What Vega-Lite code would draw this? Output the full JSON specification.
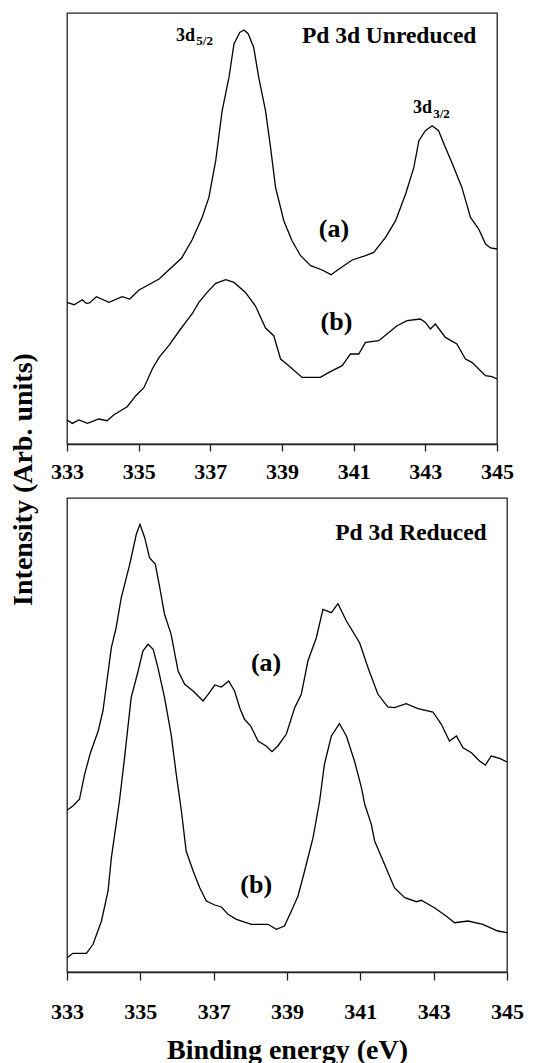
{
  "$schema": "https://vega.github.io/schema/vega-lite/v6.json",
  "padding": {"left": 8, "top": 12, "right": 5, "bottom": 0},
  "spacing": 54,
  "bounds": "flush",
  "config": {
    "font": "Liberation Serif",
    "view": {"stroke": "#222", "strokeWidth": 1.3},
    "axis": {"grid": false, "domainColor": "#222", "domainWidth": 1.3, "tickColor": "#222", "tickWidth": 1.3, "labelColor": "#000", "labelFont": "Liberation Serif", "labelFontSize": 22, "labelFontWeight": "bold", "titleFont": "Liberation Serif", "titleFontWeight": "bold", "titleFontSize": 28, "titleColor": "#000"}
  },
  "datasets": {
    "curves": [
      {"p":"top","s":"a","E":333.00,"I":141.6},{"p":"top","s":"a","E":333.20,"I":139.3},{"p":"top","s":"a","E":333.43,"I":144.3},{"p":"top","s":"a","E":333.54,"I":140.6},{"p":"top","s":"a","E":333.63,"I":141},{"p":"top","s":"a","E":333.82,"I":147.3},{"p":"top","s":"a","E":334.17,"I":141.6},{"p":"top","s":"a","E":334.54,"I":147.3},{"p":"top","s":"a","E":334.75,"I":145},{"p":"top","s":"a","E":335.01,"I":154},{"p":"top","s":"a","E":335.57,"I":165},{"p":"top","s":"a","E":336.20,"I":186},{"p":"top","s":"a","E":336.49,"I":204},{"p":"top","s":"a","E":336.77,"I":226.6},{"p":"top","s":"a","E":336.96,"I":246.6},{"p":"top","s":"a","E":337.15,"I":283.3},{"p":"top","s":"a","E":337.33,"I":333.3},{"p":"top","s":"a","E":337.52,"I":366.6},{"p":"top","s":"a","E":337.66,"I":400},{"p":"top","s":"a","E":337.82,"I":411.6},{"p":"top","s":"a","E":337.94,"I":414},{"p":"top","s":"a","E":338.06,"I":410},{"p":"top","s":"a","E":338.21,"I":396.6},{"p":"top","s":"a","E":338.35,"I":366.6},{"p":"top","s":"a","E":338.54,"I":333.3},{"p":"top","s":"a","E":338.68,"I":296.6},{"p":"top","s":"a","E":338.82,"I":256.6},{"p":"top","s":"a","E":339.05,"I":223.3},{"p":"top","s":"a","E":339.28,"I":203.3},{"p":"top","s":"a","E":339.52,"I":188.3},{"p":"top","s":"a","E":339.80,"I":178.3},{"p":"top","s":"a","E":340.12,"I":174},{"p":"top","s":"a","E":340.37,"I":169.3},{"p":"top","s":"a","E":340.59,"I":175},{"p":"top","s":"a","E":340.96,"I":184},{"p":"top","s":"a","E":341.33,"I":188.3},{"p":"top","s":"a","E":341.56,"I":191.6},{"p":"top","s":"a","E":341.89,"I":206.6},{"p":"top","s":"a","E":342.17,"I":223.3},{"p":"top","s":"a","E":342.45,"I":250},{"p":"top","s":"a","E":342.68,"I":276.6},{"p":"top","s":"a","E":342.82,"I":303.3},{"p":"top","s":"a","E":343.00,"I":313.3},{"p":"top","s":"a","E":343.19,"I":318.3},{"p":"top","s":"a","E":343.37,"I":313.3},{"p":"top","s":"a","E":343.56,"I":296.6},{"p":"top","s":"a","E":343.74,"I":281.6},{"p":"top","s":"a","E":344.02,"I":256.6},{"p":"top","s":"a","E":344.26,"I":226.6},{"p":"top","s":"a","E":344.49,"I":215},{"p":"top","s":"a","E":344.68,"I":200},{"p":"top","s":"a","E":344.82,"I":196},{"p":"top","s":"a","E":345.00,"I":195},
      {"p":"top","s":"b","E":333.00,"I":24},{"p":"top","s":"b","E":333.15,"I":20.6},{"p":"top","s":"b","E":333.33,"I":24},{"p":"top","s":"b","E":333.57,"I":20.6},{"p":"top","s":"b","E":333.89,"I":25},{"p":"top","s":"b","E":334.12,"I":23.3},{"p":"top","s":"b","E":334.31,"I":29.3},{"p":"top","s":"b","E":334.68,"I":37.3},{"p":"top","s":"b","E":334.92,"I":48.3},{"p":"top","s":"b","E":335.15,"I":56.6},{"p":"top","s":"b","E":335.38,"I":75},{"p":"top","s":"b","E":335.57,"I":86.6},{"p":"top","s":"b","E":335.84,"I":98.3},{"p":"top","s":"b","E":336.17,"I":115},{"p":"top","s":"b","E":336.31,"I":121.6},{"p":"top","s":"b","E":336.49,"I":130},{"p":"top","s":"b","E":336.68,"I":141.6},{"p":"top","s":"b","E":336.91,"I":151.6},{"p":"top","s":"b","E":337.15,"I":160.6},{"p":"top","s":"b","E":337.43,"I":164.3},{"p":"top","s":"b","E":337.66,"I":161.6},{"p":"top","s":"b","E":337.98,"I":151.6},{"p":"top","s":"b","E":338.26,"I":138},{"p":"top","s":"b","E":338.54,"I":116},{"p":"top","s":"b","E":338.77,"I":108.3},{"p":"top","s":"b","E":338.96,"I":85},{"p":"top","s":"b","E":339.19,"I":78.3},{"p":"top","s":"b","E":339.56,"I":66.6},{"p":"top","s":"b","E":340.07,"I":66.6},{"p":"top","s":"b","E":340.31,"I":71.6},{"p":"top","s":"b","E":340.68,"I":78.3},{"p":"top","s":"b","E":340.91,"I":90},{"p":"top","s":"b","E":341.14,"I":90},{"p":"top","s":"b","E":341.33,"I":101.6},{"p":"top","s":"b","E":341.70,"I":103.3},{"p":"top","s":"b","E":341.93,"I":110},{"p":"top","s":"b","E":342.21,"I":118.3},{"p":"top","s":"b","E":342.49,"I":123.3},{"p":"top","s":"b","E":342.86,"I":125},{"p":"top","s":"b","E":343.00,"I":121.6},{"p":"top","s":"b","E":343.14,"I":115},{"p":"top","s":"b","E":343.28,"I":120},{"p":"top","s":"b","E":343.56,"I":106.6},{"p":"top","s":"b","E":343.88,"I":100},{"p":"top","s":"b","E":344.12,"I":85},{"p":"top","s":"b","E":344.30,"I":81.6},{"p":"top","s":"b","E":344.68,"I":68.3},{"p":"top","s":"b","E":344.86,"I":67.3},{"p":"top","s":"b","E":345.00,"I":65},
      {"p":"bottom","s":"a","E":333.00,"I":161.7},{"p":"bottom","s":"a","E":333.16,"I":166},{"p":"bottom","s":"a","E":333.34,"I":172.7},{"p":"bottom","s":"a","E":333.48,"I":197.7},{"p":"bottom","s":"a","E":333.64,"I":219.3},{"p":"bottom","s":"a","E":333.85,"I":241},{"p":"bottom","s":"a","E":333.98,"I":261},{"p":"bottom","s":"a","E":334.21,"I":324.3},{"p":"bottom","s":"a","E":334.34,"I":344.3},{"p":"bottom","s":"a","E":334.48,"I":374.3},{"p":"bottom","s":"a","E":334.71,"I":407.7},{"p":"bottom","s":"a","E":334.89,"I":437.7},{"p":"bottom","s":"a","E":334.99,"I":447.7},{"p":"bottom","s":"a","E":335.12,"I":434.3},{"p":"bottom","s":"a","E":335.25,"I":414.3},{"p":"bottom","s":"a","E":335.41,"I":407.7},{"p":"bottom","s":"a","E":335.53,"I":384.3},{"p":"bottom","s":"a","E":335.66,"I":357.7},{"p":"bottom","s":"a","E":335.84,"I":337.7},{"p":"bottom","s":"a","E":336.03,"I":301},{"p":"bottom","s":"a","E":336.21,"I":287.7},{"p":"bottom","s":"a","E":336.44,"I":281},{"p":"bottom","s":"a","E":336.71,"I":271},{"p":"bottom","s":"a","E":336.85,"I":277.7},{"p":"bottom","s":"a","E":337.03,"I":287},{"p":"bottom","s":"a","E":337.21,"I":285},{"p":"bottom","s":"a","E":337.41,"I":291},{"p":"bottom","s":"a","E":337.57,"I":281},{"p":"bottom","s":"a","E":337.71,"I":264.3},{"p":"bottom","s":"a","E":337.84,"I":252.7},{"p":"bottom","s":"a","E":338.01,"I":246},{"p":"bottom","s":"a","E":338.21,"I":231},{"p":"bottom","s":"a","E":338.43,"I":226},{"p":"bottom","s":"a","E":338.59,"I":220.3},{"p":"bottom","s":"a","E":338.75,"I":226},{"p":"bottom","s":"a","E":338.98,"I":237.7},{"p":"bottom","s":"a","E":339.21,"I":264.3},{"p":"bottom","s":"a","E":339.39,"I":277.7},{"p":"bottom","s":"a","E":339.57,"I":311},{"p":"bottom","s":"a","E":339.80,"I":334.3},{"p":"bottom","s":"a","E":339.98,"I":362.7},{"p":"bottom","s":"a","E":340.21,"I":359.3},{"p":"bottom","s":"a","E":340.39,"I":368.3},{"p":"bottom","s":"a","E":340.62,"I":351},{"p":"bottom","s":"a","E":340.98,"I":329.3},{"p":"bottom","s":"a","E":341.21,"I":304.3},{"p":"bottom","s":"a","E":341.48,"I":277.7},{"p":"bottom","s":"a","E":341.75,"I":265},{"p":"bottom","s":"a","E":341.93,"I":264.3},{"p":"bottom","s":"a","E":342.25,"I":268.3},{"p":"bottom","s":"a","E":342.57,"I":263.3},{"p":"bottom","s":"a","E":342.98,"I":260},{"p":"bottom","s":"a","E":343.21,"I":247.7},{"p":"bottom","s":"a","E":343.43,"I":231},{"p":"bottom","s":"a","E":343.62,"I":236},{"p":"bottom","s":"a","E":343.80,"I":224.3},{"p":"bottom","s":"a","E":344.03,"I":219.3},{"p":"bottom","s":"a","E":344.25,"I":211},{"p":"bottom","s":"a","E":344.41,"I":207},{"p":"bottom","s":"a","E":344.57,"I":216},{"p":"bottom","s":"a","E":344.80,"I":213.7},{"p":"bottom","s":"a","E":345.00,"I":210},
      {"p":"bottom","s":"b","E":333.00,"I":14.3},{"p":"bottom","s":"b","E":333.16,"I":18.7},{"p":"bottom","s":"b","E":333.53,"I":18.7},{"p":"bottom","s":"b","E":333.71,"I":27.7},{"p":"bottom","s":"b","E":333.94,"I":51},{"p":"bottom","s":"b","E":334.12,"I":81},{"p":"bottom","s":"b","E":334.21,"I":114.3},{"p":"bottom","s":"b","E":334.34,"I":147.7},{"p":"bottom","s":"b","E":334.43,"I":171},{"p":"bottom","s":"b","E":334.57,"I":214.3},{"p":"bottom","s":"b","E":334.75,"I":274.3},{"p":"bottom","s":"b","E":334.94,"I":301},{"p":"bottom","s":"b","E":335.07,"I":321},{"p":"bottom","s":"b","E":335.21,"I":327.7},{"p":"bottom","s":"b","E":335.35,"I":322.7},{"p":"bottom","s":"b","E":335.48,"I":304.3},{"p":"bottom","s":"b","E":335.66,"I":274.3},{"p":"bottom","s":"b","E":335.84,"I":237.7},{"p":"bottom","s":"b","E":335.98,"I":197.7},{"p":"bottom","s":"b","E":336.12,"I":161},{"p":"bottom","s":"b","E":336.25,"I":121},{"p":"bottom","s":"b","E":336.44,"I":101},{"p":"bottom","s":"b","E":336.62,"I":84.3},{"p":"bottom","s":"b","E":336.80,"I":71},{"p":"bottom","s":"b","E":337.03,"I":67},{"p":"bottom","s":"b","E":337.21,"I":65},{"p":"bottom","s":"b","E":337.39,"I":57.7},{"p":"bottom","s":"b","E":337.62,"I":52.7},{"p":"bottom","s":"b","E":338.03,"I":47.7},{"p":"bottom","s":"b","E":338.48,"I":47.7},{"p":"bottom","s":"b","E":338.71,"I":42.7},{"p":"bottom","s":"b","E":338.93,"I":46},{"p":"bottom","s":"b","E":339.12,"I":61},{"p":"bottom","s":"b","E":339.30,"I":76},{"p":"bottom","s":"b","E":339.48,"I":101},{"p":"bottom","s":"b","E":339.71,"I":134.3},{"p":"bottom","s":"b","E":339.89,"I":171},{"p":"bottom","s":"b","E":340.02,"I":207.7},{"p":"bottom","s":"b","E":340.21,"I":236},{"p":"bottom","s":"b","E":340.43,"I":248.3},{"p":"bottom","s":"b","E":340.62,"I":236},{"p":"bottom","s":"b","E":340.84,"I":211},{"p":"bottom","s":"b","E":341.03,"I":184.3},{"p":"bottom","s":"b","E":341.12,"I":167.7},{"p":"bottom","s":"b","E":341.30,"I":147.7},{"p":"bottom","s":"b","E":341.39,"I":131},{"p":"bottom","s":"b","E":341.66,"I":107.7},{"p":"bottom","s":"b","E":341.93,"I":84.3},{"p":"bottom","s":"b","E":342.21,"I":74.3},{"p":"bottom","s":"b","E":342.53,"I":70.3},{"p":"bottom","s":"b","E":342.66,"I":71.7},{"p":"bottom","s":"b","E":343.02,"I":64.3},{"p":"bottom","s":"b","E":343.34,"I":56},{"p":"bottom","s":"b","E":343.57,"I":49.3},{"p":"bottom","s":"b","E":343.94,"I":51},{"p":"bottom","s":"b","E":344.34,"I":47.7},{"p":"bottom","s":"b","E":344.75,"I":41},{"p":"bottom","s":"b","E":345.00,"I":39.3}
    ],
    "labels": [
      {"p":"top","k":"title","t":"Pd 3d Unreduced","E":341.99,"I":407.6},
      {"p":"top","k":"tag","t":"(a)","E":340.45,"I":215.3},
      {"p":"top","k":"tag","t":"(b)","E":340.52,"I":121.6},
      {"p":"top","k":"main","t":"3d","E":336.31,"I":408},
      {"p":"top","k":"sub","t":"5/2","E":336.84,"I":403.3},
      {"p":"top","k":"main","t":"3d","E":342.92,"I":336},
      {"p":"top","k":"sub","t":"3/2","E":343.45,"I":330.3},
      {"p":"bottom","k":"title","t":"Pd 3d Reduced","E":342.38,"I":439.3},
      {"p":"bottom","k":"tag","t":"(a)","E":338.43,"I":309.3},
      {"p":"bottom","k":"tag","t":"(b)","E":338.16,"I":87}
    ]
  },
  "vconcat": [
    {
      "width": 430,
      "height": 431,
      "encoding": {
        "x": {"field": "E", "type": "quantitative", "scale": {"domain": [333, 345], "nice": false, "zero": false},
              "axis": {"values": [333, 335, 337, 339, 341, 343, 345], "format": "d", "title": null, "tickSize": 7, "labelPadding": 10, "labelFlush": false}},
        "y": {"field": "I", "type": "quantitative", "scale": {"domain": [0, 431], "nice": false, "zero": false},
              "axis": {"title": "Intensity (Arb. units)", "labels": false, "ticks": false, "domain": false, "titleX": -44, "titleY": 466, "titleBaseline": "middle", "titleAlign": "center"}}
      },
      "layer": [
        {"data": {"name": "curves"}, "transform": [{"filter": "datum.p == 'top'"}],
         "mark": {"type": "line", "color": "#000", "strokeWidth": 1.3},
         "encoding": {"detail": {"field": "s"}}},
        {"data": {"name": "labels"}, "transform": [{"filter": "datum.p == 'top' && datum.k == 'title'"}],
         "mark": {"type": "text", "font": "Liberation Serif", "fontWeight": "bold", "fontSize": 23.5, "align": "center", "baseline": "middle", "color": "#000"},
         "encoding": {"text": {"field": "t"}}},
        {"data": {"name": "labels"}, "transform": [{"filter": "datum.p == 'top' && datum.k == 'tag'"}],
         "mark": {"type": "text", "font": "Liberation Serif", "fontWeight": "bold", "fontSize": 26, "align": "center", "baseline": "middle", "color": "#000"},
         "encoding": {"text": {"field": "t"}}},
        {"data": {"name": "labels"}, "transform": [{"filter": "datum.p == 'top' && datum.k == 'main'"}],
         "mark": {"type": "text", "font": "Liberation Serif", "fontWeight": "bold", "fontSize": 18, "align": "center", "baseline": "middle", "color": "#000"},
         "encoding": {"text": {"field": "t"}}},
        {"data": {"name": "labels"}, "transform": [{"filter": "datum.p == 'top' && datum.k == 'sub'"}],
         "mark": {"type": "text", "font": "Liberation Serif", "fontWeight": "bold", "fontSize": 13, "align": "center", "baseline": "middle", "color": "#000"},
         "encoding": {"text": {"field": "t"}}}
      ]
    },
    {
      "width": 440,
      "height": 474,
      "encoding": {
        "x": {"field": "E", "type": "quantitative", "scale": {"domain": [333, 345], "nice": false, "zero": false},
              "axis": {"values": [333, 335, 337, 339, 341, 343, 345], "format": "d", "title": "Binding energy (eV)", "tickSize": 8, "labelPadding": 21, "labelFlush": false, "titlePadding": 14}},
        "y": {"field": "I", "type": "quantitative", "scale": {"domain": [0, 474], "nice": false, "zero": false}, "axis": null}
      },
      "layer": [
        {"data": {"name": "curves"}, "transform": [{"filter": "datum.p == 'bottom'"}],
         "mark": {"type": "line", "color": "#000", "strokeWidth": 1.3},
         "encoding": {"detail": {"field": "s"}}},
        {"data": {"name": "labels"}, "transform": [{"filter": "datum.p == 'bottom' && datum.k == 'title'"}],
         "mark": {"type": "text", "font": "Liberation Serif", "fontWeight": "bold", "fontSize": 23.5, "align": "center", "baseline": "middle", "color": "#000"},
         "encoding": {"text": {"field": "t"}}},
        {"data": {"name": "labels"}, "transform": [{"filter": "datum.p == 'bottom' && datum.k == 'tag'"}],
         "mark": {"type": "text", "font": "Liberation Serif", "fontWeight": "bold", "fontSize": 26, "align": "center", "baseline": "middle", "color": "#000"},
         "encoding": {"text": {"field": "t"}}}
      ]
    }
  ]
}
